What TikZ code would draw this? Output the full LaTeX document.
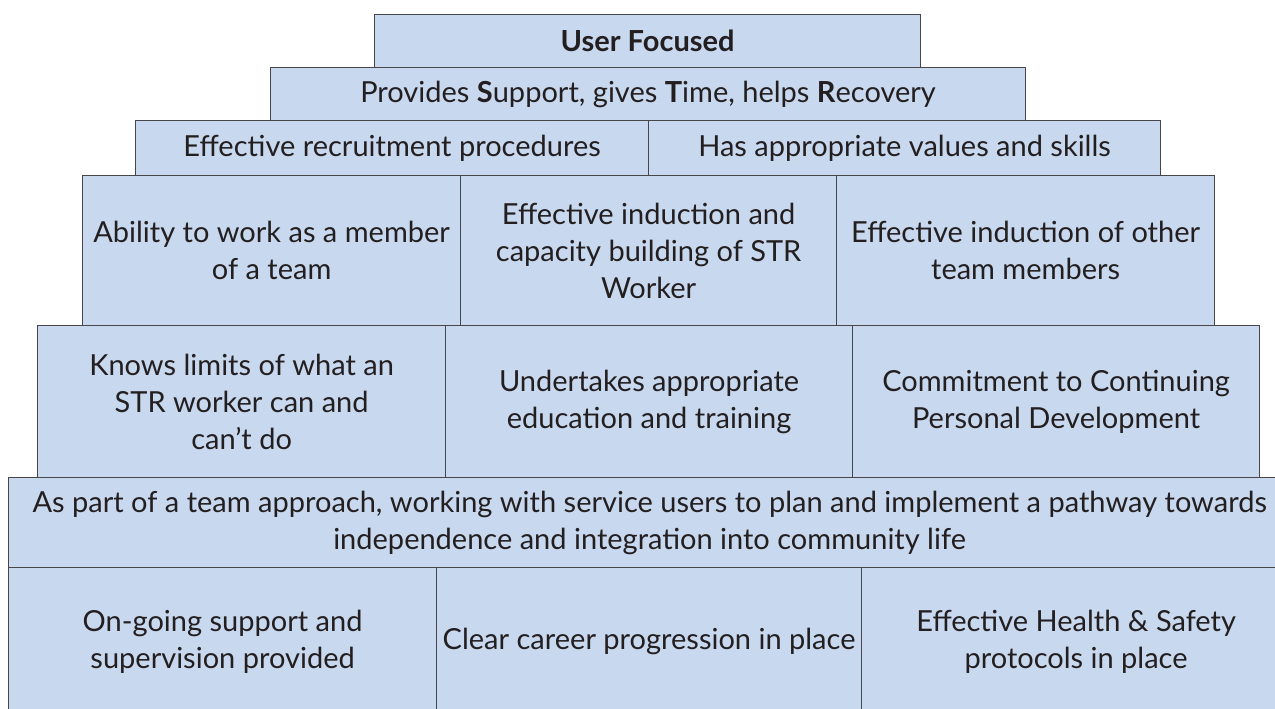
\documentclass[tikz,border=0pt]{standalone}
\usepackage{fontspec}
\setmainfont{Lato}
\definecolor{boxfill}{RGB}{200,216,238}
\definecolor{boxline}{RGB}{70,70,75}
\definecolor{txt}{RGB}{35,31,32}
\tikzset{
  tier/.style={draw=boxline, line width=1.2pt, fill=boxfill, anchor=north west,
    inner sep=0pt, align=center, text=txt,
    font=\fontsize{29}{37}\selectfont},
}
\newcommand{\tierbox}[7][]{% style, name, x1, y1, x2, y2, text
  \node[tier, #1, minimum width={#5-#3}, minimum height={#6-#4}] (#2) at (#3,#4) {#7};}
\begin{document}
\begin{tikzpicture}[x=1pt,y=-1pt]
\useasboundingbox[fill=white] (0,0) rectangle (1275,709);
% row 7
\tierbox{r7a}{8}{567}{436}{715}{On-going support and\\supervision provided}
\tierbox{r7b}{436}{567}{861}{715}{Clear career progression in place}
\tierbox{r7c}{861}{567}{1290}{715}{Effective Health \& Safety\\protocols in place}
% row 6
\tierbox{r6}{8}{477}{1290}{567}{As part of a team approach, working with service users to plan and implement a pathway towards\\independence and integration into community life}
% row 5
\tierbox{r5a}{37}{325}{445}{477}{Knows limits of what an\\STR worker can and\\can't do}
\tierbox{r5b}{445}{325}{852}{477}{Undertakes appropriate\\education and training}
\tierbox{r5c}{852}{325}{1259}{477}{Commitment to Continuing\\Personal Development}
% row 4
\tierbox{r4a}{82}{175}{460}{325}{Ability to work as a member\\of a team}
\tierbox{r4b}{460}{175}{836}{325}{Effective induction and\\capacity building of STR\\Worker}
\tierbox{r4c}{836}{175}{1214}{325}{Effective induction of other\\team members}
% row 3
\tierbox{r3a}{135}{120}{648}{175}{Effective recruitment procedures}
\tierbox{r3b}{648}{120}{1160}{175}{Has appropriate values and skills}
% row 2
\tierbox{r2}{270}{67}{1025}{120}{Provides \textbf{S}upport, gives \textbf{T}ime, helps \textbf{R}ecovery}
% row 1
\tierbox{r1}{374}{14}{920}{67}{\textbf{User Focused}}
\end{tikzpicture}
\end{document}
